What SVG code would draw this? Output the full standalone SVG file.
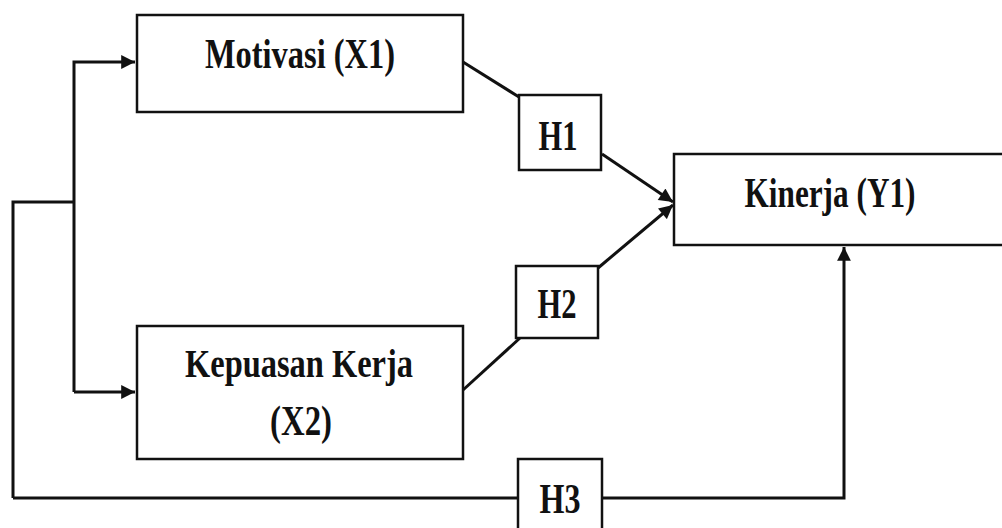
<svg xmlns="http://www.w3.org/2000/svg" width="1002" height="528" viewBox="0 0 1002 528">
<style>
.box{fill:#fff;stroke:#111;stroke-width:2.5}
.t{font-family:"Liberation Serif","Times New Roman",serif;font-weight:bold;font-size:42px;fill:#111;text-anchor:middle}
.s{font-size:39px}
.c{fill:none;stroke:#111;stroke-width:3}
</style>
<defs>
<marker id="ah" viewBox="0 0 10 10" refX="10" refY="5" markerWidth="5.3" markerHeight="4.6" orient="auto" markerUnits="strokeWidth">
<path d="M0,0 L10,5 L0,10 Z" fill="#111"/>
</marker>
</defs>
<rect width="1002" height="528" fill="#fff"/>
<g id="connectors">
<polyline class="c" points="13,498 13,202 74,202"/>
<polyline class="c" points="74,392 74,62 135,62" marker-end="url(#ah)"/>
<polyline class="c" points="74,392 135,392" marker-end="url(#ah)"/>
<line class="c" x1="463" y1="62" x2="519" y2="97"/>
<line class="c" x1="602" y1="154" x2="673" y2="202" marker-end="url(#ah)"/>
<line class="c" x1="463" y1="390" x2="520" y2="338"/>
<line class="c" x1="598" y1="268" x2="673" y2="205" marker-end="url(#ah)"/>
<line class="c" x1="13" y1="498" x2="518" y2="498"/>
<polyline class="c" points="602,498 844,498 844,247" marker-end="url(#ah)"/>
</g>
<g id="motivasi">
<rect class="box" x="137" y="15" width="326" height="97"/>
<text class="t" x="300" y="68" textLength="190" lengthAdjust="spacingAndGlyphs">Motivasi (X1)</text>
</g>
<g id="kepuasan">
<rect class="box" x="137" y="326" width="326" height="133"/>
<text class="t s" x="299" y="377" textLength="228" lengthAdjust="spacingAndGlyphs">Kepuasan Kerja</text>
<text class="t" x="301" y="435" textLength="62" lengthAdjust="spacingAndGlyphs">(X2)</text>
</g>
<g id="kinerja">
<rect class="box" x="674" y="154" width="340" height="91"/>
<text class="t" x="830" y="207" textLength="171" lengthAdjust="spacingAndGlyphs">Kinerja (Y1)</text>
</g>
<g id="h1">
<rect class="box" x="519" y="95" width="82" height="75"/>
<text class="t" x="558" y="150" textLength="39" lengthAdjust="spacingAndGlyphs">H1</text>
</g>
<g id="h2">
<rect class="box" x="516" y="266" width="82" height="72"/>
<text class="t" x="557" y="318" textLength="39" lengthAdjust="spacingAndGlyphs">H2</text>
</g>
<g id="h3">
<rect class="box" x="518" y="459" width="84" height="75"/>
<text class="t" x="560" y="513" textLength="41" lengthAdjust="spacingAndGlyphs">H3</text>
</g>
</svg>
